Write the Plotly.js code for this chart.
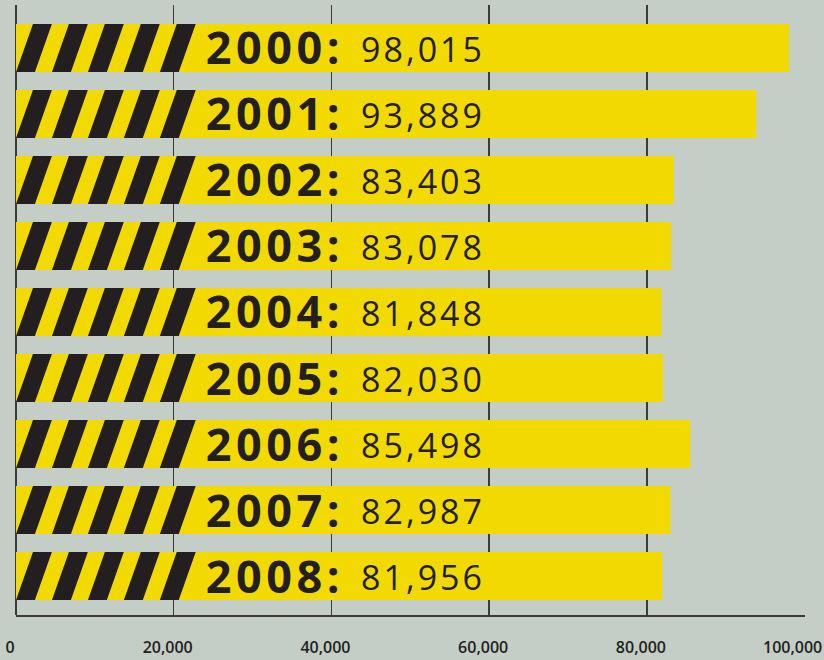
<!DOCTYPE html>
<html>
<head>
<meta charset="utf-8">
<script src="https://cdn.plot.ly/plotly-3.0.1.min.js"></script>
<style>
html,body{margin:0;padding:0;background:#c4cec6;}
#chart{width:824px;height:660px;}
.annotation text{letter-spacing:3px !important;}
.annotation text[style*="45px"]{letter-spacing:4.5px !important;}
.annotation text[style*="16px"]{letter-spacing:0px !important;}
</style>
</head>
<body>
<div id="chart"></div>
<script>
const years = ["2000","2001","2002","2003","2004","2005","2006","2007","2008"];
const values = [98015, 93889, 83403, 83078, 81848, 82030, 85498, 82987, 81956];
const tickVals = [0, 20000, 40000, 60000, 80000, 100000];
const tickText = ["0", "20,000", "40,000", "60,000", "80,000", "100,000"];

const BG = "#c4cec6", YEL = "#f2da00", INK = "#231f20";
const barHalf = 0.3636;
// stripe geometry in axis units (x) — 790px per 100000
const stripeW = 2400, stripeOff = 2150, stripePeriod = 4560, nStripes = 5;

const idx = years.map((_, i) => i);
const fmt = v => v.toLocaleString("en-US");

const bars = {
  type: "bar", orientation: "h",
  x: values, y: idx, width: barHalf * 2,
  marker: {color: YEL, line: {width: 0}},
  hoverinfo: "skip"
};

const sx = [], sy = [];
idx.forEach(i => {
  for (let k = 0; k < nStripes; k++) {
    const x0 = k * stripePeriod;
    sx.push(x0, x0 + stripeW, x0 + stripeW + stripeOff, x0 + stripeOff, x0, null);
    sy.push(i + barHalf, i + barHalf, i - barHalf, i - barHalf, i + barHalf, null);
  }
});
const stripes = {
  type: "scatter", mode: "lines", x: sx, y: sy,
  fill: "toself", fillcolor: INK, line: {width: 0, color: INK},
  hoverinfo: "skip", connectgaps: false
};

const tickFont = {family: "Open Sans", size: 16, weight: 600, color: INK};
const annotations = [];
idx.forEach(i => {
  annotations.push({
    x: 24000, y: i, xref: "x", yref: "y", xanchor: "left", yanchor: "middle",
    text: "<b>" + years[i] + ":</b>", showarrow: false, yshift: 1, xshift: 10,
    font: {family: "Open Sans", size: 45, color: INK}
  });
  annotations.push({
    x: 43600, y: i, xref: "x", yref: "y", xanchor: "left", yanchor: "middle",
    text: fmt(values[i]), showarrow: false, yshift: -1, xshift: 8,
    font: {family: "Open Sans", size: 34, color: INK}
  });
});
// last tick label drawn right-aligned so it stays inside the page
const lastI = tickVals.length - 1;
annotations.push({
  x: tickVals[lastI], y: 0, xref: "x", yref: "paper", xanchor: "right", yanchor: "middle",
  xshift: 19, yshift: -32, text: tickText[lastI], showarrow: false,
  font: tickFont
});
const shownTickText = tickText.map((t, i) => i === lastI ? "" : t);

const layout = {
  width: 824, height: 660,
  margin: {l: 16, r: 19, t: 5, b: 45},
  paper_bgcolor: BG, plot_bgcolor: BG,
  showlegend: false,
  xaxis: {
    range: [0, 100050], tickvals: tickVals, ticktext: shownTickText,
    showgrid: true, gridcolor: "#3a3a38", gridwidth: 1.5,
    zeroline: true, zerolinecolor: "#3a3a38", zerolinewidth: 1.5,
    showline: true, linecolor: "#3a3a38", linewidth: 1.5,
    ticks: "", ticklabelstandoff: 17, ticklabelshift: -6,
    ticklabeloverflow: "allow",
    tickfont: tickFont,
    fixedrange: true
  },
  yaxis: {
    range: [8.59, -0.65], showgrid: false, zeroline: false,
    showticklabels: false, ticks: "", showline: false, fixedrange: true
  },
  annotations: annotations
};

Plotly.newPlot("chart", [bars, stripes], layout, {displayModeBar: false, staticPlot: true});
</script>
</body>
</html>
